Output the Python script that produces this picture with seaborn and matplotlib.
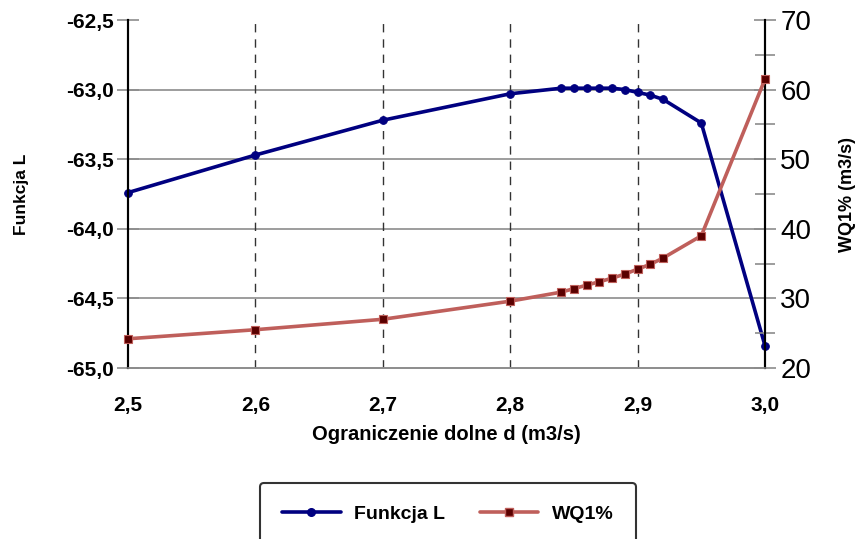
import pandas as pd
import matplotlib
matplotlib.use("Agg")
import matplotlib.pyplot as plt
from matplotlib.ticker import FuncFormatter, MultipleLocator
from matplotlib.lines import Line2D
import seaborn as sns

# values
d = [2.50, 2.60, 2.70, 2.80, 2.84, 2.85, 2.86, 2.87, 2.88, 2.89, 2.90, 2.91, 2.92, 2.95, 3.00]
funkcja_l = [-63.74, -63.47, -63.22, -63.03, -62.99, -62.99, -62.99, -62.99, -62.99, -63.00,
             -63.02, -63.04, -63.07, -63.24, -64.84]
wq1 = [24.2, 25.5, 27.0, 29.6, 30.9, 31.4, 31.9, 32.4, 32.9, 33.5, 34.2, 34.9, 35.8, 39.0, 61.5]

df = pd.DataFrame({"d": d, "L": funkcja_l, "WQ1": wq1})

sns.set_style("white")
plt.rcParams['font.family'] = ['Liberation Sans', 'DejaVu Sans']
plt.rcParams['text.color'] = 'black'
plt.rcParams['axes.labelcolor'] = 'black'
plt.rcParams['xtick.labelcolor'] = 'black'
plt.rcParams['ytick.labelcolor'] = 'black'

fig = plt.figure(figsize=(8.59, 5.39), dpi=100)
ax = fig.add_axes([128/859, 1 - 368/539, (765 - 128)/859, (368 - 20)/539])
ax2 = ax.twinx()

blue = "#000080"
red_line = "#BF5F5B"
red_mark = "#5A0000"

sns.lineplot(data=df, x="d", y="L", ax=ax, color=blue, lw=2.6, marker="o",
             markersize=5.5, markeredgecolor=blue, zorder=5, clip_on=False)
sns.lineplot(data=df, x="d", y="WQ1", ax=ax2, color=red_line, lw=2.6, marker="s",
             markersize=5.5, markerfacecolor=red_mark, markeredgecolor=red_line,
             markeredgewidth=0.8, zorder=4, clip_on=False)

ax.set_xlim(2.5, 3.0)
ax.set_ylim(-65.0, -62.5)
ax2.set_ylim(20, 70)

ax.xaxis.set_major_locator(MultipleLocator(0.1))
ax.yaxis.set_major_locator(MultipleLocator(0.5))
ax2.yaxis.set_major_locator(MultipleLocator(10))
ax2.yaxis.set_minor_locator(MultipleLocator(5))

comma1 = FuncFormatter(lambda v, p: f"{v:.1f}".replace(".", ","))
ax.xaxis.set_major_formatter(comma1)
ax.yaxis.set_major_formatter(comma1)
ax2.yaxis.set_major_formatter(FuncFormatter(lambda v, p: f"{v:.0f}"))

# grids: gray horizontal, dashed vertical
ax.grid(False)
ax2.grid(False)
for y in [-63.0, -63.5, -64.0, -64.5]:
    ax.axhline(y, color="#8c8c8c", lw=1.2, zorder=1)
for x in [2.6, 2.7, 2.8, 2.9]:
    ax.axvline(x, color="#333333", lw=1.0, ls=(0, (6, 5)), zorder=1)

for a in (ax, ax2):
    a.spines["top"].set_visible(False)
    a.spines["bottom"].set_color("#8c8c8c")
    a.spines["bottom"].set_linewidth(1.2)
    a.spines["left"].set_color("black")
    a.spines["right"].set_color("black")
    a.spines["left"].set_linewidth(1.5)
    a.spines["right"].set_linewidth(1.5)

ax.tick_params(axis="y", direction="inout", length=16, color="#8c8c8c", width=1.2,
               labelsize=15, pad=2, left=True, labelcolor="black")
ax.tick_params(axis="x", length=0, labelsize=15, pad=20, bottom=True, labelcolor="black")
ax2.tick_params(axis="y", which="major", direction="inout", length=16, color="#8c8c8c",
                width=1.2, labelsize=20, pad=3, right=True, labelcolor="black")
ax2.tick_params(axis="y", which="minor", direction="inout", length=14, color="#8c8c8c",
                width=1.2, right=True)
for lab in ax.get_xticklabels() + ax.get_yticklabels():
    lab.set_fontweight("bold")

ax.set_xlabel("Ograniczenie dolne d (m3/s)", fontsize=14.5, fontweight="bold", labelpad=7)
ax.set_ylabel("Funkcja L", fontsize=12.5, fontweight="bold", labelpad=27)
ax2.set_ylabel("WQ1% (m3/s)", fontsize=13, fontweight="bold", labelpad=20)

handles = [
    Line2D([], [], color=blue, lw=2.6, marker="o", markersize=5.5),
    Line2D([], [], color=red_line, lw=2.6, marker="s", markersize=5.5,
           markerfacecolor=red_mark, markeredgecolor=red_line),
]
leg = fig.legend(handles, ["Funkcja L", "WQ1%"], loc="upper center",
                 bbox_to_anchor=(448/859, 1 - 483/539), ncol=2, frameon=True,
                 fancybox=True, edgecolor="black", handlelength=3.0,
                 columnspacing=1.8, handletextpad=0.7, borderpad=1.15,
                 borderaxespad=0, prop={"weight": "bold", "size": 14})
leg.get_frame().set_linewidth(1.5)

fig.savefig("out.png", dpi=100)
